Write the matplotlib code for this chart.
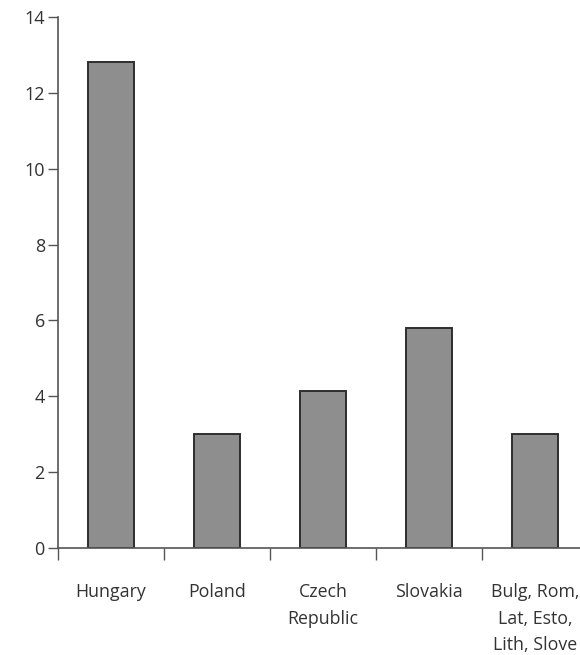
import matplotlib
matplotlib.use("Agg")
from matplotlib import pyplot as plt
import numpy as np

categories = ["Hungary", "Poland", "Czech\nRepublic", "Slovakia", "Bulg, Rom,\nLat, Esto,\nLith, Slove"]
values = [12.8, 3.0, 4.15, 5.8, 3.0]
yticks = [0, 2, 4, 6, 8, 10, 12, 14]

plt.rcParams["font.family"] = ["Open Sans", "DejaVu Sans"]

fig = plt.figure(figsize=(5.8, 6.55), dpi=100)
ax = fig.add_axes([0.1, 0.1634, 0.914, 0.8107])

x = np.arange(len(categories))
ax.bar(x, values, width=0.43, color="#8e8e8e", edgecolor="#2e2e2e", linewidth=1.4)

ax.set_xlim(-0.5, len(categories) - 0.5)
ax.set_ylim(0, 14)
ax.set_yticks(yticks)
ax.set_yticklabels([str(v) for v in yticks], fontsize=13, color="#333333")
ax.tick_params(axis="y", direction="out", length=7.5, width=1, color="#555555", pad=2)

# labels at bar centres, tick marks at category boundaries
ax.set_xticks(x)
ax.set_xticklabels(categories, fontsize=12.8, color="#333333", linespacing=1.6, va="top")
ax.tick_params(axis="x", which="major", length=0, pad=25.5)
ax.set_xticks(np.arange(-0.5, len(categories) - 0.5, 1.0), minor=True)
ax.tick_params(axis="x", which="minor", direction="out", length=8.5, width=1, color="#555555")

for side in ["top", "right"]:
    ax.spines[side].set_visible(False)
ax.spines["left"].set_color("#555555")
ax.spines["bottom"].set_color("#555555")
ax.spines["left"].set_linewidth(1.2)
ax.spines["bottom"].set_linewidth(1.2)

fig.savefig("out.png", dpi=100)
